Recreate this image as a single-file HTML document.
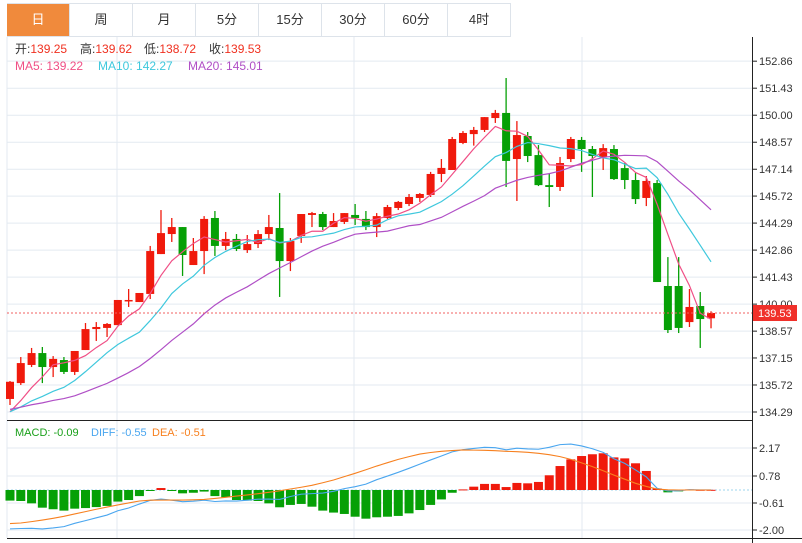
<!DOCTYPE html>
<html><head><meta charset="utf-8">
<style>
body{margin:0;background:#fff;width:802px;height:543px;overflow:hidden;font-family:"Liberation Sans","Noto Sans CJK SC",sans-serif;}
#tabs{position:absolute;left:7px;top:3px;height:32px;display:flex;border-top:1px solid #dde3ea;border-bottom:1px solid #dde3ea;}
.tab{width:62px;height:32px;line-height:32px;text-align:center;font-size:13px;color:#333;border-right:1px solid #dde3ea;}
.tab.on{background:#f08a3c;color:#fff;}
svg{position:absolute;left:0;top:0;}
</style></head><body>
<div id="tabs">
<div class="tab on">日</div>
<div class="tab">周</div>
<div class="tab">月</div>
<div class="tab">5分</div>
<div class="tab">15分</div>
<div class="tab">30分</div>
<div class="tab">60分</div>
<div class="tab">4时</div>
</div>
<svg id="c" width="802" height="543"></svg>
<script>
const opens=[134.98,135.82,136.78,137.41,136.67,137.04,136.41,137.57,138.68,138.74,138.89,140.17,140.11,140.54,142.65,143.71,144.08,142.07,142.81,144.56,143.08,143.45,142.86,143.18,143.71,144.03,142.28,143.61,144.72,144.77,144.08,144.35,144.72,144.51,144.08,144.56,145.09,145.30,145.62,145.78,146.89,147.10,148.53,149.00,149.22,149.85,150.12,147.68,148.90,147.89,146.30,146.20,147.68,148.69,148.21,147.79,148.21,147.20,146.57,145.62,146.41,140.96,140.96,139.05,139.90,139.25];
const highs=[135.93,137.20,137.68,137.73,137.25,137.20,137.52,139.00,139.05,139.00,140.22,140.80,140.59,143.08,144.98,144.56,144.08,143.50,144.66,144.93,143.82,143.71,143.66,143.92,144.72,145.88,143.50,144.77,144.88,144.88,144.82,144.82,145.30,144.93,144.82,145.25,145.46,145.83,145.88,147.00,147.68,148.85,149.16,149.38,149.90,150.28,151.97,149.69,149.11,148.42,146.89,147.79,148.85,148.85,148.37,148.47,148.42,147.47,146.94,146.78,146.57,142.49,142.49,140.80,140.64,139.62];
const lows=[134.66,135.72,136.67,135.82,136.14,136.30,136.25,137.57,138.05,138.26,138.89,139.85,140.11,140.27,142.65,143.29,141.49,142.07,141.59,142.55,142.86,142.81,142.71,142.97,143.39,140.38,141.75,143.24,144.08,143.92,144.08,144.24,144.19,143.92,143.55,144.51,144.98,145.19,145.41,145.67,146.46,147.10,148.47,148.39,149.11,149.59,146.20,145.46,147.52,146.25,145.14,145.99,147.52,147.00,145.67,147.10,146.57,146.09,145.30,145.19,141.17,138.47,138.47,138.79,137.68,138.72];
const closes=[135.89,136.88,137.41,136.67,137.10,136.41,137.52,138.68,138.79,138.95,140.22,140.22,140.59,142.81,143.76,144.08,142.60,142.81,144.51,143.08,143.45,142.92,143.18,143.71,144.08,142.28,143.34,144.77,144.82,144.08,144.40,144.82,144.56,144.08,144.66,145.14,145.41,145.67,145.83,146.89,147.21,148.74,149.06,149.22,149.90,150.12,147.58,148.95,147.84,146.30,146.20,147.47,148.74,148.21,147.84,148.26,146.62,146.57,145.56,146.52,141.17,138.63,138.74,139.85,139.21,139.53];
const histCloses=[134.6,134.8,134.7,134.5,134.4,134.6,134.5,134.3,134.5,134.6,134.4,134.2,134.3,134.4,134.3,133.9,134.0,133.8,133.9];
const priceTicks=[152.86,151.43,150.00,148.57,147.14,145.72,144.29,142.86,141.43,140.00,138.57,137.15,135.72,134.29];
const macdHist=[-0.54,-0.56,-0.68,-0.90,-0.98,-1.05,-0.95,-0.92,-0.87,-0.81,-0.59,-0.51,-0.31,-0.02,0.10,-0.02,-0.17,-0.14,-0.08,-0.31,-0.37,-0.51,-0.54,-0.56,-0.68,-0.88,-0.76,-0.71,-0.85,-1.05,-1.15,-1.22,-1.36,-1.46,-1.39,-1.36,-1.32,-1.19,-1.02,-0.76,-0.48,-0.14,0.03,0.17,0.31,0.31,0.15,0.36,0.34,0.41,0.75,1.22,1.56,1.73,1.82,1.87,1.66,1.61,1.36,0.97,0.08,-0.12,-0.07,0.03,0.01,0.01];
const dea=[-1.71,-1.68,-1.61,-1.53,-1.44,-1.34,-1.22,-1.10,-0.98,-0.87,-0.76,-0.66,-0.56,-0.52,-0.51,-0.51,-0.51,-0.50,-0.48,-0.43,-0.37,-0.31,-0.25,-0.19,-0.12,-0.04,0.05,0.14,0.24,0.37,0.51,0.68,0.85,1.03,1.22,1.39,1.56,1.70,1.83,1.91,1.97,2.01,2.04,2.03,2.02,2.00,1.97,1.95,1.92,1.87,1.80,1.70,1.56,1.38,1.19,0.98,0.76,0.55,0.34,0.18,0.05,0.01,0.0,0.0,0.0,0.0];
const macdTicks=[2.17,0.78,-0.61,-2.00];

const S=document.getElementById('c');const NS='http://www.w3.org/2000/svg';
function mk(t,a,p){const e=document.createElementNS(NS,t);for(const k in a)e.setAttribute(k,a[k]);(p||S).appendChild(e);return e;}
const X=i=>10+i*10.785;
const Y=p=>412-(p-134.29)/1.4292*27;
const MY=v=>490-v/1.39*27.3;
const RED='#f01a0c',GRN='#06a006';
const g=mk('g',{});
priceTicks.forEach(p=>{const y=Y(p);mk('line',{x1:7,x2:752,y1:y,y2:y,stroke:'#e3eaf1'},g);mk('line',{x1:752,x2:757,y1:y,y2:y,stroke:'#222'},g);
const t=mk('text',{x:759,y:y+4,'font-size':11,fill:'#333'},g);t.textContent=p.toFixed(2);
});
[117,354,582].forEach(x=>{mk('line',{x1:x,x2:x,y1:37,y2:538,stroke:'#e3eaf1'},g);});
mk('line',{x1:7,x2:7,y1:37,y2:538,stroke:'#e3eaf1'},g);
const macdTickY=[448,476,503,530];
macdTicks.forEach((v,k)=>{const yy=macdTickY[k];
mk('line',{x1:7,x2:752,y1:yy,y2:yy,stroke:'#e3eaf1'},g);mk('line',{x1:752,x2:757,y1:yy,y2:yy,stroke:'#222'},g);
const t=mk('text',{x:759,y:yy+4,'font-size':11,fill:'#333'},g);t.textContent=v.toFixed(2);
});
mk('line',{x1:752.5,x2:752.5,y1:37,y2:543,stroke:'#222'});
mk('line',{x1:7,x2:752,y1:420.5,y2:420.5,stroke:'#222'});
mk('line',{x1:7,x2:802,y1:538.5,y2:538.5,stroke:'#222'});
closes.forEach((c,i)=>{const o=opens[i],x=X(i),up=c>=o,col=up?RED:GRN;
const gg=mk('g',{});
mk('line',{x1:x,x2:x,y1:Y(highs[i]),y2:Y(lows[i]),stroke:col,'stroke-width':1.3},gg);
const t=Y(Math.max(o,c)),b=Y(Math.min(o,c));
mk('rect',{x:x-4,y:t,width:8,height:Math.max(1.5,b-t),fill:col},gg);});
const all=histCloses.concat(closes);
function ma(n,col,name){let pts=[];closes.forEach((c,i)=>{const j=i+histCloses.length;let s=0;for(let k=j-n+1;k<=j;k++)s+=all[k];pts.push(X(i)+','+Y(s/n));});
const e=mk('polyline',{points:pts.join(' '),fill:'none',stroke:col,'stroke-width':1.2});}
ma(5,'#f04f86','ma5-line');ma(10,'#3fc8dd','ma10-line');ma(20,'#b04fc6','ma20-line');
const cy=Y(closes[closes.length-1]);
mk('line',{x1:7,x2:752,y1:cy,y2:cy,stroke:'#f06060','stroke-dasharray':'2,2'});
const lb=mk('rect',{x:753,y:cy-8,width:44,height:16,fill:'#f0302a'});
const lt=mk('text',{x:758,y:cy+4,'font-size':11,fill:'#fff'});lt.textContent=closes[closes.length-1].toFixed(2);
mk('line',{x1:7,x2:752,y1:490,y2:490,stroke:'#9cd4ee','stroke-dasharray':'2,2'});
macdHist.forEach((v,i)=>{const y0=MY(0),y1=MY(v);const r=mk('rect',{x:X(i)-4.5,y:Math.min(y0,y1),width:9,height:Math.max(1,Math.abs(y1-y0)),fill:v>=0?RED:GRN});
});
const dif=dea.map((d,i)=>d+macdHist[i]/2);
const pd=mk('polyline',{points:dif.map((v,i)=>X(i)+','+MY(v)).join(' '),fill:'none',stroke:'#4aa6ef','stroke-width':1.1});

const pe=mk('polyline',{points:dea.map((v,i)=>X(i)+','+MY(v)).join(' '),fill:'none',stroke:'#f7801f','stroke-width':1.1});

</script>
<svg width="802" height="543" style="pointer-events:none">
<g font-size="12">
<text x="15" y="53" fill="#333">开:<tspan fill="#f0301f">139.25</tspan></text>
<text x="80" y="53" fill="#333">高:<tspan fill="#f0301f">139.62</tspan></text>
<text x="144" y="53" fill="#333">低:<tspan fill="#f0301f">138.72</tspan></text>
<text x="209" y="53" fill="#333">收:<tspan fill="#f0301f">139.53</tspan></text>
</g>
<g font-size="12">
<text x="15" y="70" fill="#f04f86">MA5: 139.22</text>
<text x="98" y="70" fill="#3fc8dd">MA10: 142.27</text>
<text x="188" y="70" fill="#b04fc6">MA20: 145.01</text>
</g>
<g font-size="11">
<text x="15" y="436" fill="#1aa01a">MACD: -0.09</text>
<text x="91" y="436" fill="#4aa6ef">DIFF: -0.55</text>
<text x="152" y="436" fill="#f7801f">DEA: -0.51</text>
</g>
</svg>
</body></html>
